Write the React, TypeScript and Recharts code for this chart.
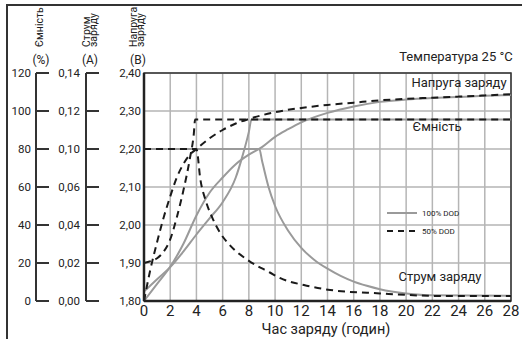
import React from 'react';
import {
    LineChart,
    Line,
    XAxis,
    YAxis,
    CartesianGrid,
    ReferenceArea
} from 'recharts';

// hours on the x axis
const X_TICKS = [0, 2, 4, 6, 8, 10, 12, 14, 16, 18, 20, 22, 24, 26, 28];
const VOLT_TICKS = [1.8, 1.9, 2.0, 2.1, 2.2, 2.3, 2.4];
const CAP_TICKS = [0, 20, 40, 60, 80, 100, 120];
// the source skips 0,08 on the current scale
const CURRENT_TICKS = [0, 0.02, 0.04, 0.06, 0.10, 0.12, 0.14];

// charge voltage, V
const VOLT100_T = [0, 1, 2, 3, 4, 5, 6, 7, 8, 9, 10, 11, 12, 14, 16, 18, 20, 22, 24, 26, 28];
const VOLT100 = [1.80, 1.845, 1.89, 1.95, 2.025, 2.085, 2.125, 2.16, 2.185, 2.205, 2.232, 2.252, 2.27, 2.295, 2.312, 2.324, 2.33, 2.334, 2.337, 2.34, 2.342];
const VOLT50_T = [0, 0.5, 1, 1.5, 2, 2.5, 3, 3.5, 4, 5, 6, 7, 8, 10, 12, 14, 16, 18, 20, 22, 24, 26, 28];
const VOLT50 = [1.80, 1.885, 1.955, 2.02, 2.075, 2.125, 2.16, 2.185, 2.20, 2.228, 2.25, 2.267, 2.279, 2.297, 2.308, 2.316, 2.322, 2.328, 2.332, 2.335, 2.338, 2.341, 2.344];

// capacity, %
const CAP100_T = [0, 1, 2, 3, 4, 5, 6, 7, 7.5, 8, 8.2, 28];
const CAP100 = [5, 11.5, 17.8, 26, 35, 43.5, 52, 65, 76, 89, 95.5, 95.5];
const CAP50_T = [0, 0.5, 1, 1.5, 2, 2.5, 3, 3.5, 3.8, 3.9, 28];
const CAP50 = [20, 21, 22.5, 26, 32.4, 44, 58, 75, 88, 95.5, 95.5];

// charge current, A
const CUR100_T = [0, 8.8, 9, 9.5, 10, 11, 12, 13, 14, 15, 16, 17, 18, 20, 22, 28];
const CUR100 = [0.10, 0.10, 0.088, 0.060, 0.050, 0.037, 0.028, 0.0216, 0.017, 0.0132, 0.0102, 0.008, 0.0062, 0.004, 0.003, 0.0028];
const CUR50_T = [0, 4, 4.3, 4.7, 5.2, 5.8, 6.6, 7.9, 9.6, 10.4, 12.2, 14.2, 18, 23, 28];
const CUR50 = [0.10, 0.10, 0.068, 0.053, 0.044, 0.036, 0.029, 0.0216, 0.015, 0.012, 0.0084, 0.0058, 0.004, 0.0026, 0.0026];

const LEGEND = [
    { label: '100% DOD', color: '#9a9a9a', dash: undefined },
    { label: '50% DOD', color: '#1a1a1a', dash: '6 5' }
];

const FONT = 'Roboto, sans-serif';
const GRAY = '#9a9a9a';
const DARK = '#1a1a1a';

// current scale is not linear (0,06 -> 0,10), map amps onto tick index
const ampsToTick = (a: number) => {
    for (let i = 1; i < CURRENT_TICKS.length; i++) {
        if (a <= CURRENT_TICKS[i]) {
            const lo = CURRENT_TICKS[i - 1];
            return i - 1 + (a - lo) / (CURRENT_TICKS[i] - lo);
        }
    }
    return CURRENT_TICKS.length - 1;
};

const toPts = (ts: number[], vs: number[], f = (v: number) => v) =>
    ts.map((t, i) => ({ t, y: f(vs[i]) }));

const comma = (v: number, d: number) => v.toFixed(d).replace('.', ',');

const AxisTick = ({ x, y, payload, fmt, gap, mark }: any) => (
    <g>
        <text x={x} y={y} dy="0.36em" textAnchor="end" fontSize={11.5} fill="#222" fontFamily={FONT}>
            {fmt(payload.value)}
        </text>
        {mark ? <line x1={x + gap} x2={x + gap + 13} y1={y} y2={y} stroke="#333" strokeWidth={2} /> : null}
    </g>
);

export default function App() {
    const textStyle = { fontFamily: FONT, fill: '#222' };
    return (
        <div style={{ position: 'relative', width: 522, height: 339, background: '#fff', overflow: 'hidden' }}>
            <style>{'body{margin:0}'}</style>
            <div style={{ position: 'absolute', left: 6, top: 4, width: 530, height: 350, borderLeft: '2px solid #333', borderTop: '2px solid #333' }} />
            <LineChart width={522} height={339} margin={{ top: 73, right: 11, bottom: 0, left: 0 }}>
                <CartesianGrid yAxisId="y1" stroke="#b5b5b5" strokeWidth={1.5} />
                <XAxis
                    type="number"
                    dataKey="t"
                    domain={[0, 28]}
                    ticks={X_TICKS}
                    interval={0}
                    height={38}
                    tickSize={0}
                    tickMargin={4}
                    axisLine={{ stroke: '#222', strokeWidth: 2.5 }}
                    tick={{ fontSize: 15, fill: '#222', fontFamily: FONT }}
                />
                {/* voltage, nearest to the plot */}
                <YAxis
                    yAxisId="y1"
                    type="number"
                    domain={[1.8, 2.4]}
                    ticks={VOLT_TICKS}
                    interval={0}
                    width={58}
                    tickSize={0}
                    tickMargin={3}
                    axisLine={{ stroke: '#222', strokeWidth: 2.5 }}
                    tick={(p: any) => <AxisTick {...p} fmt={(v: number) => comma(v, 2)} />}
                />
                {/* current */}
                <YAxis
                    yAxisId="y2"
                    type="number"
                    domain={[0, 6]}
                    ticks={[0, 1, 2, 3, 4, 5, 6]}
                    interval={0}
                    width={50}
                    tickSize={0}
                    tickMargin={6}
                    axisLine={{ stroke: '#333', strokeWidth: 2 }}
                    tick={(p: any) => <AxisTick {...p} gap={6} mark fmt={(i: number) => comma(CURRENT_TICKS[i], 2)} />}
                />
                {/* capacity */}
                <YAxis
                    yAxisId="y3"
                    type="number"
                    domain={[0, 120]}
                    ticks={CAP_TICKS}
                    interval={0}
                    width={36}
                    tickSize={0}
                    tickMargin={5}
                    axisLine={{ stroke: '#333', strokeWidth: 2 }}
                    tick={(p: any) => <AxisTick {...p} gap={5} mark fmt={(v: number) => String(v)} />}
                />
                <ReferenceArea yAxisId="y1" x1={0} x2={28} y1={1.8} y2={2.4} fill="none" stroke="#333" strokeWidth={1.5} />

                <Line yAxisId="y2" data={toPts(CUR100_T, CUR100, ampsToTick)} dataKey="y" type="monotone" stroke={GRAY} strokeWidth={2} dot={false} isAnimationActive={false} />
                <Line yAxisId="y3" data={toPts(CAP100_T, CAP100)} dataKey="y" type="monotone" stroke={GRAY} strokeWidth={2} dot={false} isAnimationActive={false} />
                <Line yAxisId="y1" data={toPts(VOLT100_T, VOLT100)} dataKey="y" type="monotone" stroke={GRAY} strokeWidth={2} dot={false} isAnimationActive={false} />
                <Line yAxisId="y2" data={toPts(CUR50_T, CUR50, ampsToTick)} dataKey="y" type="monotone" stroke={DARK} strokeWidth={2} strokeDasharray="7 5" dot={false} isAnimationActive={false} />
                <Line yAxisId="y3" data={toPts(CAP50_T, CAP50)} dataKey="y" type="monotone" stroke={DARK} strokeWidth={2} strokeDasharray="7 5" dot={false} isAnimationActive={false} />
                <Line yAxisId="y1" data={toPts(VOLT50_T, VOLT50)} dataKey="y" type="monotone" stroke={DARK} strokeWidth={2} strokeDasharray="7 5" dot={false} isAnimationActive={false} />
            </LineChart>

            <svg width={522} height={339} style={{ position: 'absolute', left: 0, top: 0, pointerEvents: 'none' }}>
                {/* axis titles */}
                <text transform="translate(42.5,47) rotate(-90)" fontSize={10.5} style={textStyle}>Ємність</text>
                <text x={41} y={64} fontSize={12} textAnchor="middle" style={textStyle}>(%)</text>
                <text transform="translate(89.5,47) rotate(-90)" fontSize={10.5} style={textStyle}>Струм</text>
                <text transform="translate(96.5,47) rotate(-90)" fontSize={10.5} style={textStyle}>заряду</text>
                <text x={90} y={64} fontSize={12} textAnchor="middle" style={textStyle}>(А)</text>
                <text transform="translate(137,47) rotate(-90)" fontSize={10.5} style={textStyle}>Напруга</text>
                <text transform="translate(143.5,47) rotate(-90)" fontSize={10.5} style={textStyle}>заряду</text>
                <text x={138} y={64} fontSize={12} textAnchor="middle" style={textStyle}>(В)</text>

                {/* curve names */}
                <text x={456} y={61} fontSize={13} textAnchor="middle" style={textStyle}>Температура 25 °C</text>
                <text x={459} y={87} fontSize={13} textAnchor="middle" style={textStyle}>Напруга заряду</text>
                <text x={437} y={131} fontSize={13} textAnchor="middle" style={textStyle}>Ємність</text>
                <text x={440} y={281} fontSize={13} textAnchor="middle" style={textStyle}>Струм заряду</text>
                <text x={326} y={334} fontSize={14.5} textAnchor="middle" style={textStyle}>Час заряду (годин)</text>

                {/* legend */}
                {LEGEND.map((item, i) => (
                    <g key={item.label}>
                        <line x1={387} x2={417} y1={213 + i * 18} y2={213 + i * 18} stroke={item.color} strokeWidth={2} strokeDasharray={item.dash} />
                        <text x={422} y={216 + i * 18} fontSize={8} style={textStyle}>{item.label}</text>
                    </g>
                ))}
            </svg>
        </div>
    );
}
